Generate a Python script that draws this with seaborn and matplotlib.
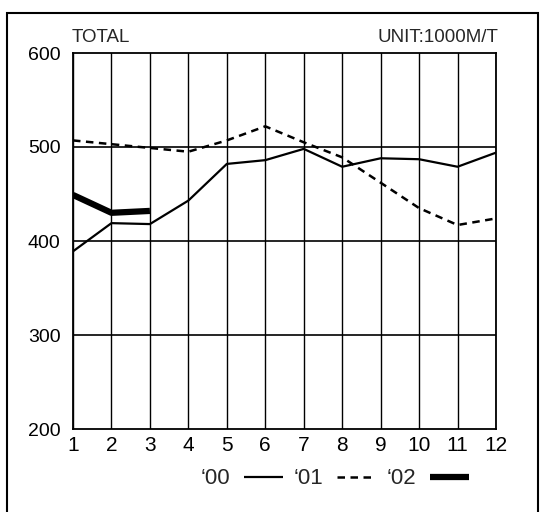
import numpy as np
import pandas as pd
import matplotlib
matplotlib.use("Agg")
import matplotlib.pyplot as plt
import seaborn as sns
from matplotlib.lines import Line2D

months = list(range(1, 13))
total_00 = [389, 419, 418, 443, 482, 486, 498, 479, 488, 487, 479, 494]
total_01 = [507, 503, 499, 495, 507, 522, 505, 489, 462, 435, 417, 424]
total_02 = [449, 430, 432]
y_ticks = [200, 300, 400, 500, 600]
legend_labels = ["\u201800", "\u201801", "\u201802"]

sns.set_theme(style="white")
plt.rcParams["font.family"] = ["Liberation Sans", "DejaVu Sans"]

fig = plt.figure(figsize=(5.46, 5.12), dpi=100)
ax = fig.add_axes([73 / 546, 1 - 429 / 512, (496 - 73) / 546, (429 - 53) / 512])

df00 = pd.DataFrame({"month": months, "value": total_00})
df01 = pd.DataFrame({"month": months, "value": total_01})
df02 = pd.DataFrame({"month": months[:len(total_02)], "value": total_02})

dash = (0, (3, 2.2))

# grid first, lines on top
for m in months:
    ax.axvline(m, color="black", lw=1.0, zorder=1)
for v in y_ticks[1:-1]:
    ax.axhline(v, color="black", lw=1.2, zorder=1)

sns.lineplot(data=df00, x="month", y="value", ax=ax, color="black", lw=1.6, zorder=3)
sns.lineplot(data=df01, x="month", y="value", ax=ax, color="black", lw=1.8,
             linestyle=dash, zorder=3)
sns.lineplot(data=df02, x="month", y="value", ax=ax, color="black", lw=4.5,
             solid_capstyle="butt", zorder=4)

ax.set_xlim(1, 12)
ax.set_ylim(200, 600)
ax.set_xticks(months)
ax.set_yticks(y_ticks)
ax.tick_params(axis="x", length=0, labelsize=15, colors="black", pad=5)
ax.tick_params(axis="y", length=0, labelsize=14, colors="black", pad=9)
ax.set_xlabel("")
ax.set_ylabel("")
for s in ax.spines.values():
    s.set_color("black")
    s.set_linewidth(1.3)

fig.text(72 / 546, 1 - 38 / 512, "TOTAL", fontsize=13.5, ha="left", va="center")
fig.text(498 / 546, 1 - 38 / 512, "UNIT:1000M/T", fontsize=13.5, ha="right", va="center")

handles = [
    Line2D([], [], color="black", lw=1.6, solid_capstyle="butt"),
    Line2D([], [], color="black", lw=1.8, linestyle=dash),
    Line2D([], [], color="black", lw=4.5, solid_capstyle="butt"),
]
fig.legend(handles, legend_labels, loc="center", bbox_to_anchor=(335 / 546, 1 - 479 / 512),
           ncol=3, frameon=False, markerfirst=False, fontsize=16, handlelength=1.75,
           columnspacing=0.5, handletextpad=0.6)

# outer frame
fig.add_artist(plt.Rectangle((7 / 546, -0.05), (538 - 7) / 546, 1.05 - 13 / 512,
                             transform=fig.transFigure, fill=False, lw=1.5,
                             edgecolor="black"))

fig.savefig("out.png", dpi=100)
